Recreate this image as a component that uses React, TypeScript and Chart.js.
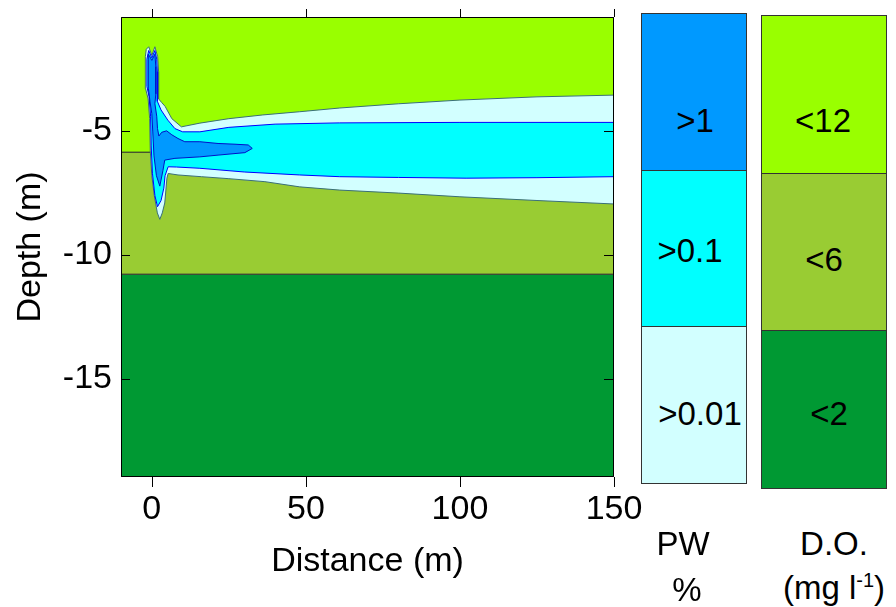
import React, { useEffect, useRef } from "react";
import { Chart, registerables } from "chart.js";

Chart.register(...registerables);

const FONT = "'Liberation Sans', Arial, sans-serif";

// axes
const X_MIN = -10;
const X_MAX = 150;
const Y_MIN = -18.95;
const Y_MAX = -0.4;
const X_TICKS = [0, 50, 100, 150];
const Y_TICKS = [-15, -10, -5];

// dissolved-oxygen layers (depth, m)
const LAYER_TOP = [-0.4, -5.85, -10.77];
const LAYER_BOTTOM = [-5.85, -10.77, -18.95];
const LAYER_COLORS = ["#99FF00", "#99CC33", "#009933"];
const DO_LABELS = ["<12", "<6", "<2"];

// PW plume contours (distance m, depth m)
const OUTER_X = [-1.0, 0, 1.0, 1.9, 2.2, 2.2, 3.2, 4.3, 6.5, 9.6, 15.6, 25, 36, 48, 61, 80, 100, 125, 150, 150, 125, 100, 80, 61, 48, 36.7, 25, 16.1, 8.5, 5.3, 4.9, 4.2, 3.4, 2.6, 1.8, 0.8, 0.0, -0.5, -0.7, -1.2, -2.0, -2.1, -1.8, -1.0];
const OUTER_Y = [-1.6, -1.95, -1.6, -2.0, -2.6, -3.7, -3.85, -4.0, -4.5, -4.83, -4.68, -4.5, -4.35, -4.22, -4.07, -3.9, -3.75, -3.62, -3.55, -7.94, -7.8, -7.65, -7.5, -7.38, -7.25, -7.04, -6.92, -6.84, -6.77, -6.71, -6.9, -7.9, -8.3, -8.56, -8.3, -7.6, -6.8, -5.8, -4.5, -3.7, -3.3, -2.0, -1.7, -1.6];

const MID_X = [-1.0, 0, 1.0, 1.6, 1.8, 1.8, 3.0, 5.2, 7.5, 10, 15.6, 25, 40, 61, 100, 150, 150, 125, 102, 80, 61, 48, 30, 15.6, 8, 5.3, 4.3, 3.9, 3.0, 1.85, 1.0, 0.2, -0.2, -0.4, -0.9, -1.6, -1.6, -1.0];
const MID_Y = [-1.75, -2.05, -1.75, -2.1, -2.6, -3.8, -4.15, -4.56, -4.9, -5.03, -5.03, -4.85, -4.72, -4.67, -4.65, -4.65, -6.84, -6.88, -6.9, -6.87, -6.84, -6.77, -6.65, -6.5, -6.45, -6.44, -6.8, -7.3, -7.8, -8.05, -7.6, -6.7, -5.6, -4.4, -3.6, -3.2, -2.1, -1.75];

const CORE_X = [-1.1, 0, 1.0, 1.3, 1.3, 1.0, 1.6, 1.85, 2.3, 3.2, 4.8, 6.5, 8.5, 10.7, 15.6, 21.5, 27, 31.3, 32.6, 30.2, 21.5, 15.6, 7.5, 4.2, 3.6, 2.6, 1.5, 0.7, 0.3, 0.0, -0.6, -1.1, -1.2, -1.1];
const CORE_Y = [-1.9, -2.15, -1.9, -2.4, -3.5, -3.9, -4.4, -4.9, -5.2, -5.05, -4.99, -5.15, -5.3, -5.43, -5.43, -5.5, -5.53, -5.56, -5.7, -5.87, -5.97, -6.04, -6.1, -6.17, -6.6, -7.22, -6.8, -6.0, -5.0, -4.3, -3.8, -3.3, -2.4, -1.9];

const PW_LABELS = [">1", ">0.1", ">0.01"];
const PW_COLORS = ["#0099FF", "#00FFFF", "#D2FFFF"];

const zip = (xs: number[], ys: number[]) => xs.map((x, i) => ({ x, y: ys[i] }));

const framePlugin = {
  id: "frameTicks",
  afterDraw(chart: any) {
    const { ctx, chartArea: a, scales } = chart;
    const xs = scales.x;
    const ys = scales.y;
    ctx.save();
    ctx.strokeStyle = "#000";
    ctx.lineWidth = 1;
    ctx.beginPath();
    ctx.rect(a.left + 0.5, a.top + 0.5, a.right - a.left - 1, a.bottom - a.top - 1);
    for (const v of X_TICKS) {
      const px = Math.round(xs.getPixelForValue(v)) + 0.5;
      ctx.moveTo(px, a.bottom);
      ctx.lineTo(px, a.bottom + 10);
      ctx.moveTo(px, a.top);
      ctx.lineTo(px, a.top - 8);
    }
    for (const v of Y_TICKS) {
      const py = Math.round(ys.getPixelForValue(v)) + 0.5;
      ctx.moveTo(a.left, py);
      ctx.lineTo(a.left + 9, py);
      ctx.moveTo(a.right, py);
      ctx.lineTo(a.right - 10, py);
    }
    ctx.stroke();
    ctx.restore();
  },
};

function PlumeChart() {
  const ref = useRef<HTMLCanvasElement | null>(null);
  useEffect(() => {
    if (!ref.current) return;
    const layerSets = LAYER_COLORS.map((c, i) => ({
      data: zip([X_MIN, X_MAX, X_MAX, X_MIN, X_MIN], [LAYER_TOP[i], LAYER_TOP[i], LAYER_BOTTOM[i], LAYER_BOTTOM[i], LAYER_TOP[i]]),
      showLine: true,
      fill: "shape",
      backgroundColor: c,
      borderColor: "#333333",
      borderWidth: 1,
      pointRadius: 0,
      tension: 0,
      order: 10,
    }));
    const plume = [
      { xs: OUTER_X, ys: OUTER_Y, bg: PW_COLORS[2], bc: "#3A6F78", order: 3 },
      { xs: MID_X, ys: MID_Y, bg: PW_COLORS[1], bc: "#0000FF", order: 2 },
      { xs: CORE_X, ys: CORE_Y, bg: PW_COLORS[0], bc: "#0010C8", order: 1 },
    ].map((p) => ({
      data: zip(p.xs, p.ys),
      showLine: true,
      fill: "shape",
      backgroundColor: p.bg,
      borderColor: p.bc,
      borderWidth: 1,
      pointRadius: 0,
      tension: 0,
      order: p.order,
    }));
    const chart = new Chart(ref.current, {
      type: "scatter",
      data: { datasets: [...plume, ...layerSets] as any },
      options: {
        animation: false,
        responsive: false,
        maintainAspectRatio: false,
        layout: { padding: { top: 17, right: 46, left: 0, bottom: 0 } },
        plugins: { legend: { display: false }, tooltip: { enabled: false } },
        scales: {
          x: {
            type: "linear",
            min: X_MIN,
            max: X_MAX,
            grid: { display: false, drawTicks: false },
            border: { display: false },
            afterBuildTicks: (s: any) => {
              s.ticks = X_TICKS.map((v) => ({ value: v }));
            },
            afterFit: (s: any) => {
              s.height = 130;
              s.paddingLeft = 0;
              s.paddingRight = 0;
            },
            ticks: { color: "#000", font: { family: FONT, size: 34 }, padding: 12, maxRotation: 0, autoSkip: false },
            title: { display: true, text: "Distance (m)", color: "#000", font: { family: FONT, size: 34 }, padding: { top: 0, bottom: 25 } },
          },
          y: {
            type: "linear",
            min: Y_MIN,
            max: Y_MAX,
            grid: { display: false, drawTicks: false },
            border: { display: false },
            afterBuildTicks: (s: any) => {
              s.ticks = Y_TICKS.map((v) => ({ value: v }));
            },
            afterFit: (s: any) => {
              s.width = 121;
              s.paddingTop = 0;
              s.paddingBottom = 0;
            },
            ticks: { color: "#000", font: { family: FONT, size: 34 }, padding: 9, autoSkip: false },
            title: { display: true, text: "Depth (m)", color: "#000", font: { family: FONT, size: 34 }, padding: { top: 10, bottom: 0 } },
          },
        },
      } as any,
      plugins: [framePlugin],
    });
    return () => chart.destroy();
  }, []);
  return <canvas ref={ref} width={660} height={607} style={{ position: "absolute", left: 0, top: 0 }} />;
}

const textStyle = (x: number, y: number): React.CSSProperties => ({
  position: "absolute",
  left: x,
  top: y,
  transform: "translate(-50%, -50%)",
  fontFamily: FONT,
  fontSize: 33,
  lineHeight: 1,
  color: "#000",
  whiteSpace: "nowrap",
});

function LegendColumn(props: { left: number; top: number; width: number; heights: number[]; colors: string[] }) {
  const { left, top, width, heights, colors } = props;
  let y = top;
  return (
    <>
      {heights.map((h, i) => {
        const el = (
          <div
            key={i}
            style={{
              position: "absolute",
              left,
              top: y,
              width,
              height: h,
              boxSizing: "border-box",
              background: colors[i],
              border: "1px solid #333",
              borderTop: i === 0 ? "1px solid #333" : "none",
            }}
          />
        );
        y += h;
        return el;
      })}
    </>
  );
}

export default function App() {
  const pwPos = [
    [695, 120],
    [690, 250],
    [700, 413],
  ];
  const doPos = [
    [823, 120],
    [824, 259],
    [829, 413],
  ];
  return (
    <div style={{ position: "absolute", left: 0, top: 0, width: 896, height: 607, background: "#fff", overflow: "hidden" }}>
      <PlumeChart />
      <LegendColumn left={641} top={13} width={106} heights={[158, 156, 157]} colors={PW_COLORS} />
      <LegendColumn left={761} top={15} width={126} heights={[159, 157, 158]} colors={LAYER_COLORS} />
      {PW_LABELS.map((t, i) => (
        <div key={"pw" + i} style={textStyle(pwPos[i][0], pwPos[i][1])}>{t}</div>
      ))}
      {DO_LABELS.map((t, i) => (
        <div key={"do" + i} style={textStyle(doPos[i][0], doPos[i][1])}>{t}</div>
      ))}
      <div style={textStyle(683, 543)}>PW</div>
      <div style={textStyle(687, 589)}>%</div>
      <div style={textStyle(834, 543)}>D.O.</div>
      <div style={textStyle(834, 587)}>
        (mg l<sup style={{ fontSize: 20, verticalAlign: "super", lineHeight: 0 }}>-1</sup>)
      </div>
    </div>
  );
}
